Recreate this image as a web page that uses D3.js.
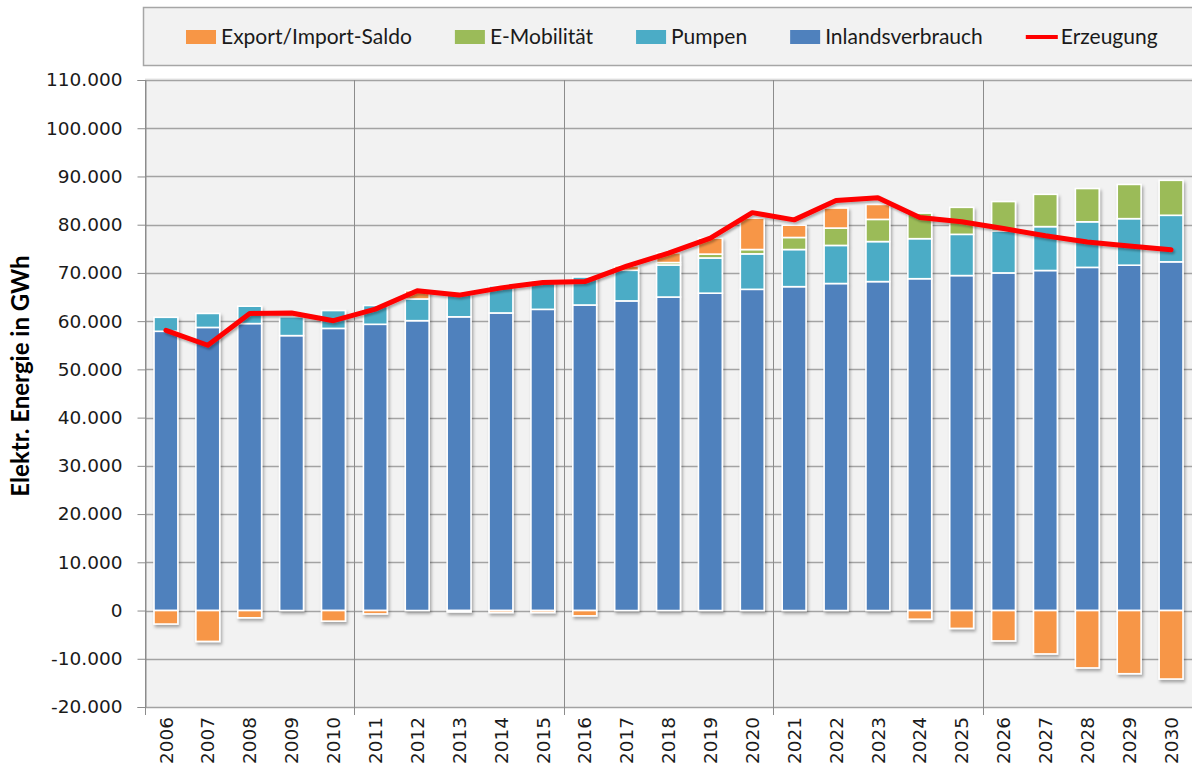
<!DOCTYPE html>
<html>
<head>
<meta charset="utf-8">
<script src="https://cdn.jsdelivr.net/npm/d3@7"></script>
<style>
  html, body { margin: 0; padding: 0; background: #ffffff; }
  svg { display: block; }
</style>
</head>
<body>
<svg id="chart" width="1192" height="771"></svg>
<script>
// Stromerzeugung und -verbrauch, 2006–2030 (GWh)
const years = ["2006","2007","2008","2009","2010","2011","2012","2013","2014","2015",
               "2016","2017","2018","2019","2020","2021","2022","2023","2024","2025",
               "2026","2027","2028","2029","2030"];

const inlandsverbrauch = [57900, 58700, 59500, 57000, 58500, 59350, 60100, 60900, 61700, 62450,
                          63350, 64200, 65000, 65800, 66600, 67150, 67800, 68200, 68800, 69450,
                          70000, 70500, 71150, 71600, 72300];

const pumpen = [2900, 2900, 3600, 3900, 3700, 3900, 4500, 4700, 5600, 5900,
                5800, 6350, 6650, 7300, 7350, 7700, 7900, 8300, 8300, 8550,
                8700, 9100, 9450, 9650, 9650];

const eMobilitaet = [0, 0, 0, 0, 0, 0, 0, 0, 0, 0,
                     0, 0, 500, 800, 900, 2500, 3600, 4600, 5300, 5600,
                     6100, 6700, 6900, 7100, 7250];

const exportImportSaldo = [-2800, -6400, -1500, 0, -2200, -700, 1700, -300, -400, -400,
                           -1100, 900, 2000, 3300, 6500, 2550, 4150, 3100, -1800, -3700,
                           -6300, -9000, -11900, -13100, -14200];

const erzeugung = [58100, 55000, 61600, 61700, 60100, 62500, 66300, 65400, 66900, 68000,
                   68200, 71400, 74100, 77200, 82500, 81000, 85000, 85600, 81500, 80600,
                   79200, 77700, 76400, 75600, 74800];

const yTickValues = [-20000, -10000, 0, 10000, 20000, 30000, 40000, 50000, 60000,
                     70000, 80000, 90000, 100000, 110000];

const seriesKeys   = ["inland", "pumpen", "emob", "saldo"];
const seriesColors = { inland: "#4f81bd", pumpen: "#4bacc6", emob: "#9bbb59", saldo: "#f79646" };
const lineColor = "#ff0000";

const legendItems = [
  { label: "Export/Import-Saldo", key: "saldo", type: "box" },
  { label: "E-Mobilität",         key: "emob",  type: "box" },
  { label: "Pumpen",              key: "pumpen", type: "box" },
  { label: "Inlandsverbrauch",    key: "inland", type: "box" },
  { label: "Erzeugung",           key: "erz",   type: "line" }
];

const yTitle = "Elektr. Energie in GWh";

// ---------- layout ----------
const svg = d3.select("#chart");
const plot = { left: 145, right: 1192, top: 80, bottom: 707 };

const deLocale = d3.formatLocale({ decimal: ",", thousands: ".", grouping: [3], currency: ["", " €"], minus: "-" });
const fmt = deLocale.format(",");

const x = d3.scaleBand()
  .domain(years)
  .range([plot.left, plot.right])
  .paddingInner(0.43)
  .paddingOuter(0.215);

const y = d3.scaleLinear()
  .domain([-20000, 110000])
  .range([plot.bottom, plot.top]);

const defs = svg.append("defs");
const shadow = defs.append("filter").attr("id", "shadow")
  .attr("x", "-20%").attr("y", "-20%").attr("width", "140%").attr("height", "140%");
shadow.append("feDropShadow")
  .attr("dx", 1.5).attr("dy", 2.5).attr("stdDeviation", 1.4)
  .attr("flood-color", "#000").attr("flood-opacity", 0.32);

const lineShadow = defs.append("filter").attr("id", "lineShadow")
  .attr("x", "-10%").attr("y", "-10%").attr("width", "120%").attr("height", "130%");
lineShadow.append("feDropShadow")
  .attr("dx", 1.5).attr("dy", 2).attr("stdDeviation", 1.3)
  .attr("flood-color", "#000").attr("flood-opacity", 0.3);

// ---------- plot background and grid ----------
svg.append("rect")
  .attr("x", plot.left).attr("y", plot.top - 2)
  .attr("width", plot.right - plot.left + 10).attr("height", plot.bottom - plot.top + 2)
  .attr("fill", "#f2f2f2");

const grid = svg.append("g");
grid.selectAll("line.h")
  .data(yTickValues)
  .join("line")
  .attr("class", "h")
  .attr("x1", plot.left).attr("x2", plot.right + 10)
  .attr("y1", d => Math.round(y(d)) + 0.5).attr("y2", d => Math.round(y(d)) + 0.5)
  .attr("stroke", "#a3a3a3").attr("stroke-width", 1.3);

// vertical separators every five years
const step = x.step();
const groupEdges = [0, 5, 10, 15, 20, 25].map(k => plot.left + k * step);
grid.selectAll("line.v")
  .data(groupEdges)
  .join("line")
  .attr("class", "v")
  .attr("x1", d => Math.round(d) + 0.5).attr("x2", d => Math.round(d) + 0.5)
  .attr("y1", plot.top).attr("y2", plot.bottom + 8)
  .attr("stroke", "#8c8c8c").attr("stroke-width", 1);

// ---------- y axis ----------
const yAxis = svg.append("g")
  .attr("transform", `translate(${plot.left + 0.5},0)`)
  .call(d3.axisLeft(y).tickValues(yTickValues).tickFormat(fmt).tickSize(8).tickPadding(15));
yAxis.select(".domain").attr("stroke", "#8c8c8c");
yAxis.selectAll(".tick line").attr("stroke", "#8c8c8c");
yAxis.selectAll(".tick text")
  .attr("fill", "#1a1a1a")
  .style("font-family", "'DejaVu Sans', Verdana, sans-serif")
  .style("font-size", "18.5px");

svg.append("text")
  .attr("transform", "translate(29,376) rotate(-90)")
  .attr("text-anchor", "middle")
  .style("font-family", "Lato, 'Open Sans', sans-serif")
  .style("font-weight", "bold")
  .style("font-size", "24px")
  .attr("fill", "#000")
  .text(yTitle);

// ---------- x labels ----------
svg.append("g").selectAll("text")
  .data(years)
  .join("text")
  .attr("transform", d => `translate(${x(d) + x.bandwidth() / 2},717) rotate(-90)`)
  .attr("text-anchor", "end")
  .attr("dy", "0.36em")
  .attr("fill", "#1a1a1a")
  .style("font-family", "'DejaVu Sans', Verdana, sans-serif")
  .style("font-size", "18.5px")
  .text(d => d);

// ---------- stacked bars ----------
const rows = years.map((yr, i) => ({
  year: yr,
  inland: inlandsverbrauch[i],
  pumpen: pumpen[i],
  emob: eMobilitaet[i],
  saldo: exportImportSaldo[i]
}));

const stacked = d3.stack().keys(seriesKeys).offset(d3.stackOffsetDiverging)(rows);

const bars = svg.append("g").attr("filter", "url(#shadow)");
bars.selectAll("g")
  .data(stacked)
  .join("g")
  .attr("fill", s => seriesColors[s.key])
  .selectAll("rect")
  .data(s => s.filter(d => d[1] !== d[0]))
  .join("rect")
  .attr("x", d => x(d.data.year))
  .attr("width", x.bandwidth())
  .attr("y", d => y(Math.max(d[0], d[1])))
  .attr("height", d => Math.abs(y(d[0]) - y(d[1])))
  .attr("stroke", "#ffffff")
  .attr("stroke-width", 1.6);

// ---------- Erzeugung line ----------
const line = d3.line()
  .x((d, i) => x(years[i]) + x.bandwidth() / 2)
  .y(d => y(d));

svg.append("path")
  .datum(erzeugung)
  .attr("d", line)
  .attr("fill", "none")
  .attr("stroke", lineColor)
  .attr("stroke-width", 5)
  .attr("stroke-linejoin", "round")
  .attr("stroke-linecap", "round")
  .attr("filter", "url(#lineShadow)");

// ---------- legend ----------
const legend = svg.append("g");
legend.append("rect")
  .attr("x", 143.5).attr("y", 7.5)
  .attr("width", 1070).attr("height", 58)
  .attr("fill", "#f2f2f2")
  .attr("stroke", "#a6a6a6").attr("stroke-width", 1.5);

let lx = 186;
legendItems.forEach(item => {
  const g = legend.append("g");
  if (item.type === "box") {
    g.append("rect")
      .attr("x", lx).attr("y", 30)
      .attr("width", 30).attr("height", 14)
      .attr("fill", seriesColors[item.key]);
  } else {
    g.append("line")
      .attr("x1", lx).attr("x2", lx + 32)
      .attr("y1", 37).attr("y2", 37)
      .attr("stroke", lineColor).attr("stroke-width", 4);
  }
  const t = g.append("text")
    .attr("x", lx + 35).attr("y", 44)
    .attr("fill", "#1a1a1a")
    .style("font-family", "Lato, 'Open Sans', sans-serif")
    .style("font-size", "21px")
    .text(item.label);
  lx += 35 + t.node().getComputedTextLength() + 43;
});
</script>
</body>
</html>
